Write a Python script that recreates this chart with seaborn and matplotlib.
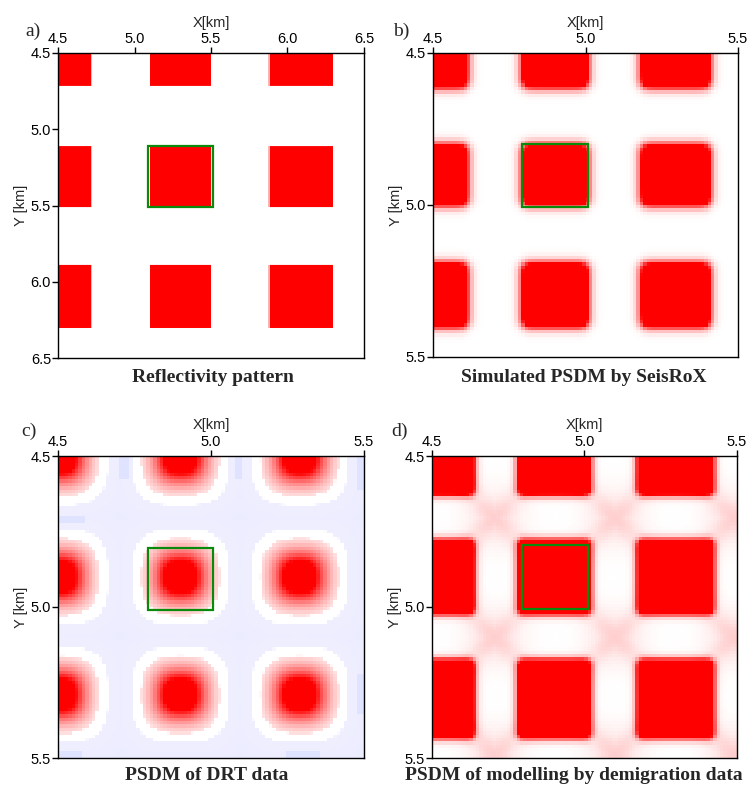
import numpy as np
import matplotlib
matplotlib.use("Agg")
import matplotlib.pyplot as plt
import seaborn as sns
from matplotlib.colors import LinearSegmentedColormap
from matplotlib.patches import Rectangle

# ---------------- data (km) ----------------
# a) reflectivity pattern: square extents
a_x_lo = [4.30, 5.10, 5.88]
a_x_hi = [4.72, 5.50, 6.30]
a_y_lo = [4.30, 5.11, 5.89]
a_y_hi = [4.715, 5.51, 6.30]
a_box = [5.09, 5.11, 5.51, 5.51]          # x0, y0, x1, y1
a_xticks = [4.5, 5.0, 5.5, 6.0, 6.5]
a_yticks = [4.5, 5.0, 5.5, 6.0, 6.5]

# b) simulated PSDM by SeisRoX
b_x_lo = [4.40, 4.795, 5.185]
b_x_hi = [4.61, 5.005, 5.405]
b_y_lo = [4.40, 4.805, 5.195]
b_y_hi = [4.61, 4.998, 5.398]
b_box = [4.792, 4.798, 5.008, 5.005]

# c) PSDM of DRT data: blob centres and sidelobe patches
c_cx = [4.505, 4.90, 5.29]
c_cy = [4.505, 4.90, 5.29]
c_patches = [(4.70, 4.73, 4.50, 4.58), (5.08, 5.105, 4.50, 4.58),
             (5.48, 5.50, 4.50, 4.61), (4.50, 4.59, 4.70, 4.72),
             (4.50, 4.58, 5.48, 5.50), (5.24, 5.36, 5.48, 5.50),
             (5.48, 5.50, 5.22, 5.36)]
c_box = [4.794, 4.805, 5.006, 5.010]

# d) PSDM of modelling by demigration data
d_x_lo = [4.385, 4.785, 5.177]
d_x_hi = [4.635, 5.017, 5.420]
d_y_lo = [4.385, 4.780, 5.178]
d_y_hi = [4.625, 5.020, 5.430]
d_jx = [4.705, 5.10, 5.49]
d_jy = [4.705, 5.10, 5.49]
d_box = [4.795, 4.795, 5.010, 5.005]

bcd_ticks = [4.5, 5.0, 5.5]

# ---------------- helpers ----------------
def logistic(u):
    return 1.0 / (1.0 + np.exp(-np.clip(u, -60, 60)))

def grid(x0, x1, y0, y1, n):
    dx = (x1 - x0) / n
    dy = (y1 - y0) / n
    xc = x0 + (np.arange(n) + 0.5) * dx
    yc = y0 + (np.arange(n) + 0.5) * dy
    return xc, yc

def boxes(xc, yc, xlo, xhi, ylo, yhi, soft):
    f = np.zeros((len(yc), len(xc)))
    for lo, hi in zip(ylo, yhi):
        fy = logistic((yc - lo) / soft) - logistic((yc - hi) / soft)
        for lo2, hi2 in zip(xlo, xhi):
            fx = logistic((xc - lo2) / soft) - logistic((xc - hi2) / soft)
            f += fy[:, None] * fx[None, :]
    return f

cmap = LinearSegmentedColormap.from_list("psdm", [
    (0.0, (0.82, 0.85, 1.0)),
    (0.30, (0.90, 0.91, 1.0)),
    (0.40, (0.93, 0.93, 1.0)),
    (0.465, (0.935, 0.935, 1.0)),
    (0.47, (1.0, 1.0, 1.0)),
    (0.5, (1.0, 1.0, 1.0)),
    (1.0, (1.0, 0.0, 0.0))], N=512)

cmap_c = LinearSegmentedColormap.from_list("psdm_c", [
    (0.0, (0.82, 0.85, 1.0)),
    (0.30, (0.90, 0.91, 1.0)),
    (0.40, (0.93, 0.93, 1.0)),
    (0.465, (0.935, 0.935, 1.0)),
    (0.47, (1.0, 1.0, 1.0)),
    (0.538, (1.0, 1.0, 1.0)),
    (0.54, (1.0, 0.88, 0.88)),
    (1.0, (1.0, 0.0, 0.0))], N=1024)

# ---------------- fields ----------------
xa, ya = grid(4.5, 6.5, 4.5, 6.5, 240)
fa = np.clip(boxes(xa, ya, a_x_lo, a_x_hi, a_y_lo, a_y_hi, 0.001), 0, 1)

xb, yb = grid(4.5, 5.5, 4.5, 5.5, 90)
fb = np.clip(2.2 * boxes(xb, yb, b_x_lo, b_x_hi, b_y_lo, b_y_hi, 0.009), 0, 1)

xc_, yc_ = grid(4.5, 5.5, 4.5, 5.5, 90)
X, Y = np.meshgrid(xc_, yc_)
G = np.zeros_like(X)
H = np.zeros_like(X)
for cy in c_cy:
    for cx in c_cx:
        dx = X - cx
        dy = Y - cy
        r = (np.abs(dx) ** 2.5 + np.abs(dy) ** 2.5) ** (1 / 2.5)
        G += np.exp(-(r / 0.070) ** 1.6)
        H = np.maximum(H, np.exp(-(np.abs(dx) / 0.18) ** 4 - (np.abs(dy) / 0.18) ** 4))
fc = 1.91 * G - 0.25 * (1 - H)
for (px0, px1, py0, py1) in c_patches:
    m = (X >= px0) & (X <= px1) & (Y >= py0) & (Y <= py1)
    fc[m] = -0.6
fc = np.clip(fc, -1, 1)

xd, yd = grid(4.5, 5.5, 4.5, 5.5, 90)
Xd, Yd = np.meshgrid(xd, yd)
core = boxes(xd, yd, d_x_lo, d_x_hi, d_y_lo, d_y_hi, 0.007)
haze = np.zeros_like(Xd)
for jy in d_jy:
    for jx in d_jx:
        dx = Xd - jx
        dy = Yd - jy
        r2 = dx ** 2 + dy ** 2
        haze += 0.09 * np.exp(-((np.abs(dx) - np.abs(dy)) ** 2) / (2 * 0.035 ** 2)) * np.exp(-r2 / (2 * 0.11 ** 2))
        haze += 0.10 * np.exp(-r2 / (2 * 0.07 ** 2))
fd = np.clip(2.4 * core + haze, 0, 1)

# ---------------- figure ----------------
sns.set_style("white")
plt.rcParams['font.family'] = ['Liberation Sans', 'DejaVu Sans']

fig = plt.figure(figsize=(7.5, 7.87), dpi=100)
W, Hh = 750.0, 787.0

def axes_px(left, top, right, bottom):
    return fig.add_axes([left / W, 1 - bottom / Hh, (right - left) / W, (bottom - top) / Hh])

def draw(ax, field, x0, x1, y0, y1, xticks, yticks, box, cm):
    ny, nx = field.shape
    dx = (x1 - x0) / nx
    dy = (y1 - y0) / ny
    sns.heatmap(field, ax=ax, cmap=cm, vmin=-1, vmax=1, cbar=False,
                xticklabels=False, yticklabels=False, rasterized=True)
    for s in ax.spines.values():
        s.set_visible(True)
        s.set_color('black')
        s.set_linewidth(1.0)
    ax.set_xticks([(v - x0) / dx for v in xticks])
    ax.set_xticklabels([f"{v:.1f}" for v in xticks])
    ax.set_yticks([(v - y0) / dy for v in yticks])
    ax.set_yticklabels([f"{v:.1f}" for v in yticks], rotation=0)
    ax.xaxis.tick_top()
    ax.xaxis.set_label_position('top')
    ax.tick_params(axis='both', direction='out', length=4, width=1, pad=1,
                   labelsize=10.5, colors='black')
    ax.tick_params(axis='x', top=True, bottom=False, labeltop=True, labelbottom=False)
    ax.tick_params(axis='y', left=True, right=False)
    ax.set_xlabel('X[km]', fontsize=10.5, labelpad=4)
    ax.set_ylabel('Y [km]', fontsize=10.5, labelpad=2)
    ax.add_patch(Rectangle(((box[0] - x0) / dx, (box[1] - y0) / dy),
                           (box[2] - box[0]) / dx, (box[3] - box[1]) / dy,
                           fill=False, edgecolor='#0a8a0a', linewidth=1.6))

ax_a = axes_px(58, 53, 364, 358)
draw(ax_a, fa, 4.5, 6.5, 4.5, 6.5, a_xticks, a_yticks, a_box, cmap)
ax_b = axes_px(433, 53, 738, 357)
draw(ax_b, fb, 4.5, 5.5, 4.5, 5.5, bcd_ticks, bcd_ticks, b_box, cmap)
ax_c = axes_px(58, 456, 364, 758)
draw(ax_c, fc, 4.5, 5.5, 4.5, 5.5, bcd_ticks, bcd_ticks, c_box, cmap_c)
ax_d = axes_px(432, 456, 737, 758)
draw(ax_d, fd, 4.5, 5.5, 4.5, 5.5, bcd_ticks, bcd_ticks, d_box, cmap)

serif = ['Liberation Serif', 'DejaVu Serif']
for txt, x, y in [('a)', 33, 31), ('b)', 401, 31), ('c)', 29, 431), ('d)', 400, 431)]:
    fig.text(x / W, 1 - y / Hh, txt, family=serif, fontsize=14, ha='center', va='center')

for txt, x, y in [('Reflectivity pattern', 213, 378),
                  ('Simulated PSDM by SeisRoX', 584, 378),
                  ('PSDM of DRT data', 207, 775),
                  ('PSDM of modelling by demigration data', 574, 775)]:
    fig.text(x / W, 1 - y / Hh, txt, family=serif, fontsize=14, fontweight='bold',
             ha='center', va='center')

fig.savefig('out.png', dpi=100)
